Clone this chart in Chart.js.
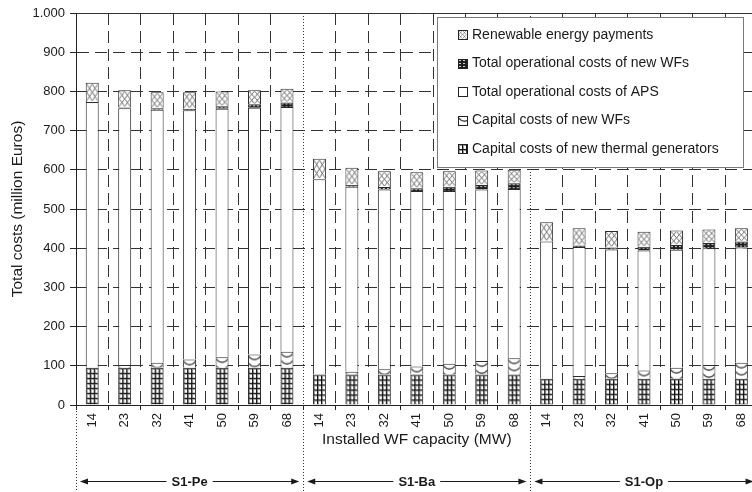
<!DOCTYPE html>
<html>
<head>
<meta charset="utf-8">
<title>Total costs by installed WF capacity</title>
<script src="https://cdn.jsdelivr.net/npm/chart.js@4.4.1/dist/chart.umd.min.js"></script>
<style>
  html, body { margin: 0; padding: 0; background: #fff; overflow: hidden; }
  #wrap { width: 760px; height: 492px; }
</style>
</head>
<body>
<div id="wrap"><canvas id="costs" width="760" height="492"></canvas></div>
<script>
// Scenarios and the installed WF capacities (MW) run in each one
const groups = ['S1-Pe', 'S1-Ba', 'S1-Op'];
const capacities = ['14', '23', '32', '41', '50', '59', '68'];

// Cost components in million Euros, bottom of the stack first.
// Each array: 7 bars for S1-Pe, then S1-Ba, then S1-Op.
const thermalCapital = [95, 95, 95, 95, 95, 95, 95, 78, 78, 78, 78, 78, 78, 78, 67, 67, 67, 67, 67, 67, 67];
const wfCapital = [0, 7, 13, 21, 27, 34, 41, 0, 7, 13, 20, 27, 34, 41, 0, 7, 14, 21, 28, 35, 41];
const apsOperational = [678, 655, 645, 636, 634, 629, 624, 498, 472, 459, 448, 441, 438, 432, 350, 329, 316, 306, 301, 298, 294];
const wfOperational = [0, 2, 4, 4, 6, 9, 12, 0, 4, 6, 7, 11, 11, 15, 0, 4, 5, 10, 12, 13, 15];
const renewablePayments = [49, 44, 41, 42, 38, 36, 35, 52, 44, 40, 41, 39, 37, 34, 49, 44, 42, 38, 37, 35, 34];

const labels = groups.flatMap(() => capacities);

const FONT = '"Liberation Sans", Arial, Helvetica, sans-serif';
const INK = '#1a1a1a';
const BAR_SHARE = 0.4;

// small canvases used as fill patterns
function tile(w, h, paint) {
  const c = document.createElement('canvas');
  c.width = w;
  c.height = h;
  paint(c.getContext('2d'), w, h);
  return c;
}

const tiles = {
  grid: tile(4, 5, (g) => {
    g.fillStyle = '#fff';
    g.fillRect(0, 0, 4, 5);
    g.fillStyle = '#9a9a9a';
    g.fillRect(0, 1, 4, 1);
    g.fillRect(1, 0, 1, 5);
    g.fillStyle = '#111';
    g.fillRect(0, 0, 4, 1);
    g.fillRect(0, 0, 1, 5);
  }),
  wave: tile(13, 7, (g) => {
    g.fillStyle = '#fff';
    g.fillRect(0, 0, 13, 7);
    g.strokeStyle = '#444';
    g.lineWidth = 1.3;
    g.beginPath();
    g.moveTo(0, 1.5);
    g.quadraticCurveTo(6.5, 9, 13, 1.5);
    g.stroke();
  }),
  dark: tile(4, 3, (g) => {
    g.fillStyle = '#1e1e1e';
    g.fillRect(0, 0, 4, 3);
    g.fillStyle = '#d0d0d0';
    g.fillRect(1, 1, 2, 1);
  }),
  cross: tile(13, 16, (g) => {
    g.fillStyle = '#fff';
    g.fillRect(0, 0, 13, 16);
    g.strokeStyle = '#6e6e6e';
    g.lineWidth = 1;
    g.beginPath();
    g.moveTo(0, 0); g.lineTo(13, 16);
    g.moveTo(13, 0); g.lineTo(0, 16);
    g.moveTo(6.5, 1); g.lineTo(12, 8); g.lineTo(6.5, 15); g.lineTo(1, 8); g.closePath();
    g.stroke();
  }),
};

// pixel box of one stacked segment, used to anchor its pattern
function segmentBox(chart, di, i) {
  const { x, y } = chart.scales;
  const ds = chart.data.datasets;
  let base = 0;
  for (let k = 0; k < di; k++) base += ds[k].data[i];
  const w = (x.width / chart.data.labels.length) * BAR_SHARE;
  return {
    left: x.getPixelForValue(i) - w / 2,
    width: w,
    top: y.getPixelForValue(base + ds[di].data[i]),
    bottom: y.getPixelForValue(base),
  };
}

function barFill(name, fit) {
  return (c) => {
    if (c.type !== 'data') return '#fff';
    const t = tiles[name];
    const box = segmentBox(c.chart, c.datasetIndex, c.dataIndex);
    const p = c.chart.ctx.createPattern(t, 'repeat');
    const sx = fit ? box.width / t.width : 1;
    const sy = fit ? Math.max(box.bottom - box.top, 1) / t.height : 1;
    p.setTransform(new DOMMatrix([sx, 0, 0, sy, box.left, box.top]));
    return p;
  };
}

function solidOr(name) {
  return name ? barFill(name, name === 'cross') : '#fff';
}

const seriesDefs = [
  { label: 'Capital costs of new thermal generators', data: thermalCapital, fill: 'grid' },
  { label: 'Capital costs of new WFs', data: wfCapital, fill: 'wave' },
  { label: 'Total operational costs of APS', data: apsOperational, fill: null },
  { label: 'Total operational costs of new WFs', data: wfOperational, fill: 'dark' },
  { label: 'Renewable energy payments', data: renewablePayments, fill: 'cross' },
];

// legend in its own white box, top right of the plot
const boxedLegend = {
  id: 'boxedLegend',
  afterDraw(chart) {
    const { ctx } = chart;
    const L = 437, T = 17, R = 743, B = 167;
    ctx.save();
    ctx.fillStyle = '#fff';
    ctx.fillRect(L, T, R - L, B - T);
    ctx.strokeStyle = '#7a7a7a';
    ctx.lineWidth = 1;
    ctx.strokeRect(L + 0.5, T + 0.5, R - L, B - T);
    ctx.font = `14px ${FONT}`;
    ctx.textBaseline = 'middle';
    seriesDefs.slice().reverse().forEach((s, k) => {
      const cy = 35 + k * 28.5;
      const sx = 458, sy = Math.round(cy - 5);
      if (s.fill) {
        const t = tiles[s.fill];
        const p = ctx.createPattern(t, 'repeat');
        const f = s.fill === 'cross' ? [9 / t.width, 9 / t.height] : [1, 1];
        p.setTransform(new DOMMatrix([f[0], 0, 0, f[1], sx, sy]));
        ctx.fillStyle = p;
      } else {
        ctx.fillStyle = '#fff';
      }
      ctx.fillRect(sx, sy, 9, 9);
      ctx.strokeStyle = '#222';
      ctx.strokeRect(sx + 0.5, sy + 0.5, 9, 9);
      ctx.fillStyle = INK;
      ctx.fillText(s.label, 472, cy);
    });
    ctx.restore();
  },
};

// dotted scenario separators and the labelled arrows under the axis
const scenarioMarkers = {
  id: 'scenarioMarkers',
  afterDatasetsDraw(chart) {
    const { ctx, chartArea, scales: { x } } = chart;
    const step = x.getPixelForValue(1) - x.getPixelForValue(0);
    const bounds = groups.map((_, g) => x.getPixelForValue(g * capacities.length) - step / 2);
    bounds.push(x.getPixelForValue(labels.length - 1) + step / 2);

    ctx.save();
    ctx.strokeStyle = '#333';
    ctx.lineWidth = 1;
    ctx.setLineDash([1, 2]);
    bounds.forEach((bx, i) => {
      const px = Math.round(bx) + 0.5;
      const inner = i > 0 && i < bounds.length - 1;
      ctx.beginPath();
      ctx.moveTo(px, inner ? chartArea.top : chartArea.bottom);
      ctx.lineTo(px, chart.height);
      ctx.stroke();
    });
    ctx.setLineDash([]);

    const ay = 481.5;
    ctx.font = `bold 13px ${FONT}`;
    ctx.textAlign = 'center';
    ctx.textBaseline = 'middle';
    ctx.fillStyle = INK;
    ctx.strokeStyle = INK;
    groups.forEach((name, g) => {
      const a = bounds[g] + 4, b = bounds[g + 1] - 4;
      const cx = (bounds[g] + bounds[g + 1]) / 2;
      const half = ctx.measureText(name).width / 2 + 5;
      ctx.beginPath();
      ctx.moveTo(a + 6, ay); ctx.lineTo(cx - half, ay);
      ctx.moveTo(cx + half, ay); ctx.lineTo(b - 6, ay);
      ctx.stroke();
      ctx.beginPath();
      ctx.moveTo(a, ay); ctx.lineTo(a + 8, ay - 3); ctx.lineTo(a + 8, ay + 3); ctx.closePath();
      ctx.moveTo(b, ay); ctx.lineTo(b - 8, ay - 3); ctx.lineTo(b - 8, ay + 3); ctx.closePath();
      ctx.fill();
      ctx.fillText(name, cx, ay + 1);
    });
    ctx.restore();
  },
};

const thousands = (v) => String(v).replace(/\B(?=(\d{3})+(?!\d))/g, '.');

new Chart(document.getElementById('costs'), {
  type: 'bar',
  data: {
    labels,
    datasets: seriesDefs.map((s) => ({
      label: s.label,
      data: s.data,
      backgroundColor: solidOr(s.fill),
      borderColor: '#2a2a2a',
      borderWidth: { top: 1, left: 1, right: 1, bottom: 0 },
      borderSkipped: false,
      categoryPercentage: 1,
      barPercentage: BAR_SHARE,
    })),
  },
  options: {
    responsive: false,
    animation: false,
    events: [],
    layout: { padding: { top: 13, right: 1, left: 0, bottom: 0 } },
    plugins: { legend: { display: false }, tooltip: { enabled: false } },
    scales: {
      x: {
        stacked: true,
        offset: true,
        grid: {
          offset: true,
          color: (c) => (c.index % capacities.length === 0 ? 'rgba(0,0,0,0)' : '#333'),
          tickColor: '#222',
          tickLength: 5,
        },
        border: { color: '#222', width: 1, dash: [12, 6] },
        ticks: {
          autoSkip: false,
          minRotation: 90,
          maxRotation: 90,
          padding: 3,
          color: INK,
          font: { family: FONT, size: 13 },
        },
        title: {
          display: true,
          text: 'Installed WF capacity (MW)',
          color: INK,
          font: { family: FONT, size: 15.5 },
          padding: { top: 0, bottom: 43 },
        },
        afterFit: (s) => { s.height = 87; },
      },
      y: {
        stacked: true,
        min: 0,
        max: 1000,
        grid: { color: '#333', tickColor: '#222', tickLength: 6 },
        border: {
          color: '#222',
          width: 1,
          dash: (c) => (c.tick && c.tick.value === 1000 ? [] : [12, 6]),
        },
        ticks: {
          stepSize: 100,
          padding: 5,
          color: INK,
          font: { family: FONT, size: 13 },
          callback: thousands,
        },
        title: {
          display: true,
          text: 'Total costs (million Euros)',
          color: INK,
          font: { family: FONT, size: 15.5 },
          padding: { top: 8, bottom: 0 },
        },
        afterFit: (s) => { s.width = 76; },
      },
    },
  },
  plugins: [scenarioMarkers, boxedLegend],
});
</script>
</body>
</html>
